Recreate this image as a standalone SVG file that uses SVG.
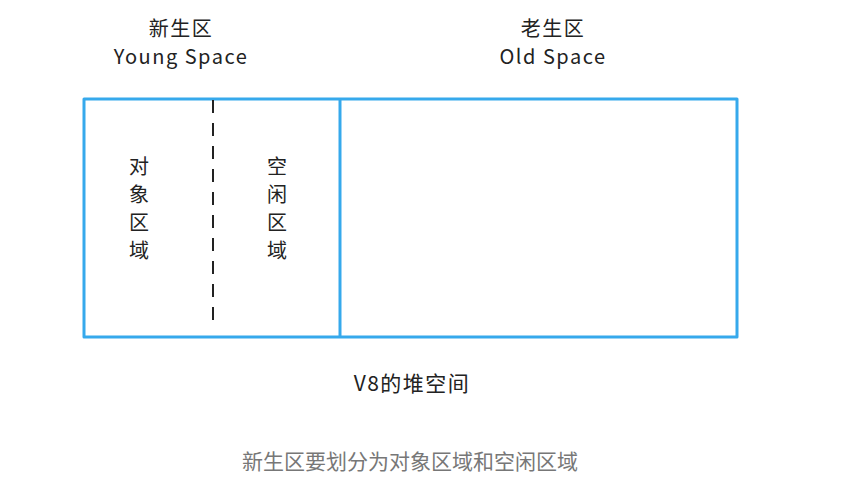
<svg xmlns="http://www.w3.org/2000/svg" width="841" height="499" viewBox="0 0 841 499">
<style>
.t{font-family:"Noto Sans CJK SC","Noto Sans",sans-serif;fill:#222;}
.h{font-size:20px;text-anchor:middle;letter-spacing:1.5px;}
.v{font-size:20px;text-anchor:middle;}
.box{fill:none;stroke:#36a9ec;stroke-width:3;stroke-linejoin:round;}
.cap{font-family:"Noto Sans CJK SC","Noto Sans",sans-serif;font-size:21px;fill:#777;text-anchor:middle;}
</style>
<rect width="841" height="499" fill="#fff"/>
<g id="young-label">
<text class="t h" x="181" y="36">新生区</text>
<text class="t h" x="181" y="64">Young Space</text>
</g>
<g id="old-label">
<text class="t h" x="553" y="36">老生区</text>
<text class="t h" x="553" y="64">Old Space</text>
</g>
<g id="heap">
<rect class="box" x="84" y="99" width="653" height="238"/>
<line class="box" x1="340" y1="99" x2="340" y2="337"/>
</g>
<g id="divider">
<line x1="213" y1="100" x2="213" y2="326" stroke="#222" stroke-width="2" stroke-dasharray="13,10"/>
</g>
<g id="object-area">
<text class="t v" x="139" y="174">对</text>
<text class="t v" x="139" y="202">象</text>
<text class="t v" x="139" y="230">区</text>
<text class="t v" x="139" y="258">域</text>
</g>
<g id="free-area">
<text class="t v" x="277" y="174">空</text>
<text class="t v" x="277" y="202">闲</text>
<text class="t v" x="277" y="230">区</text>
<text class="t v" x="277" y="258">域</text>
</g>
<g id="heap-label">
<text class="t h" x="412" y="391" style="font-size:21px">V8的堆空间</text>
</g>
<text class="cap" x="410" y="469">新生区要划分为对象区域和空闲区域</text>
</svg>
